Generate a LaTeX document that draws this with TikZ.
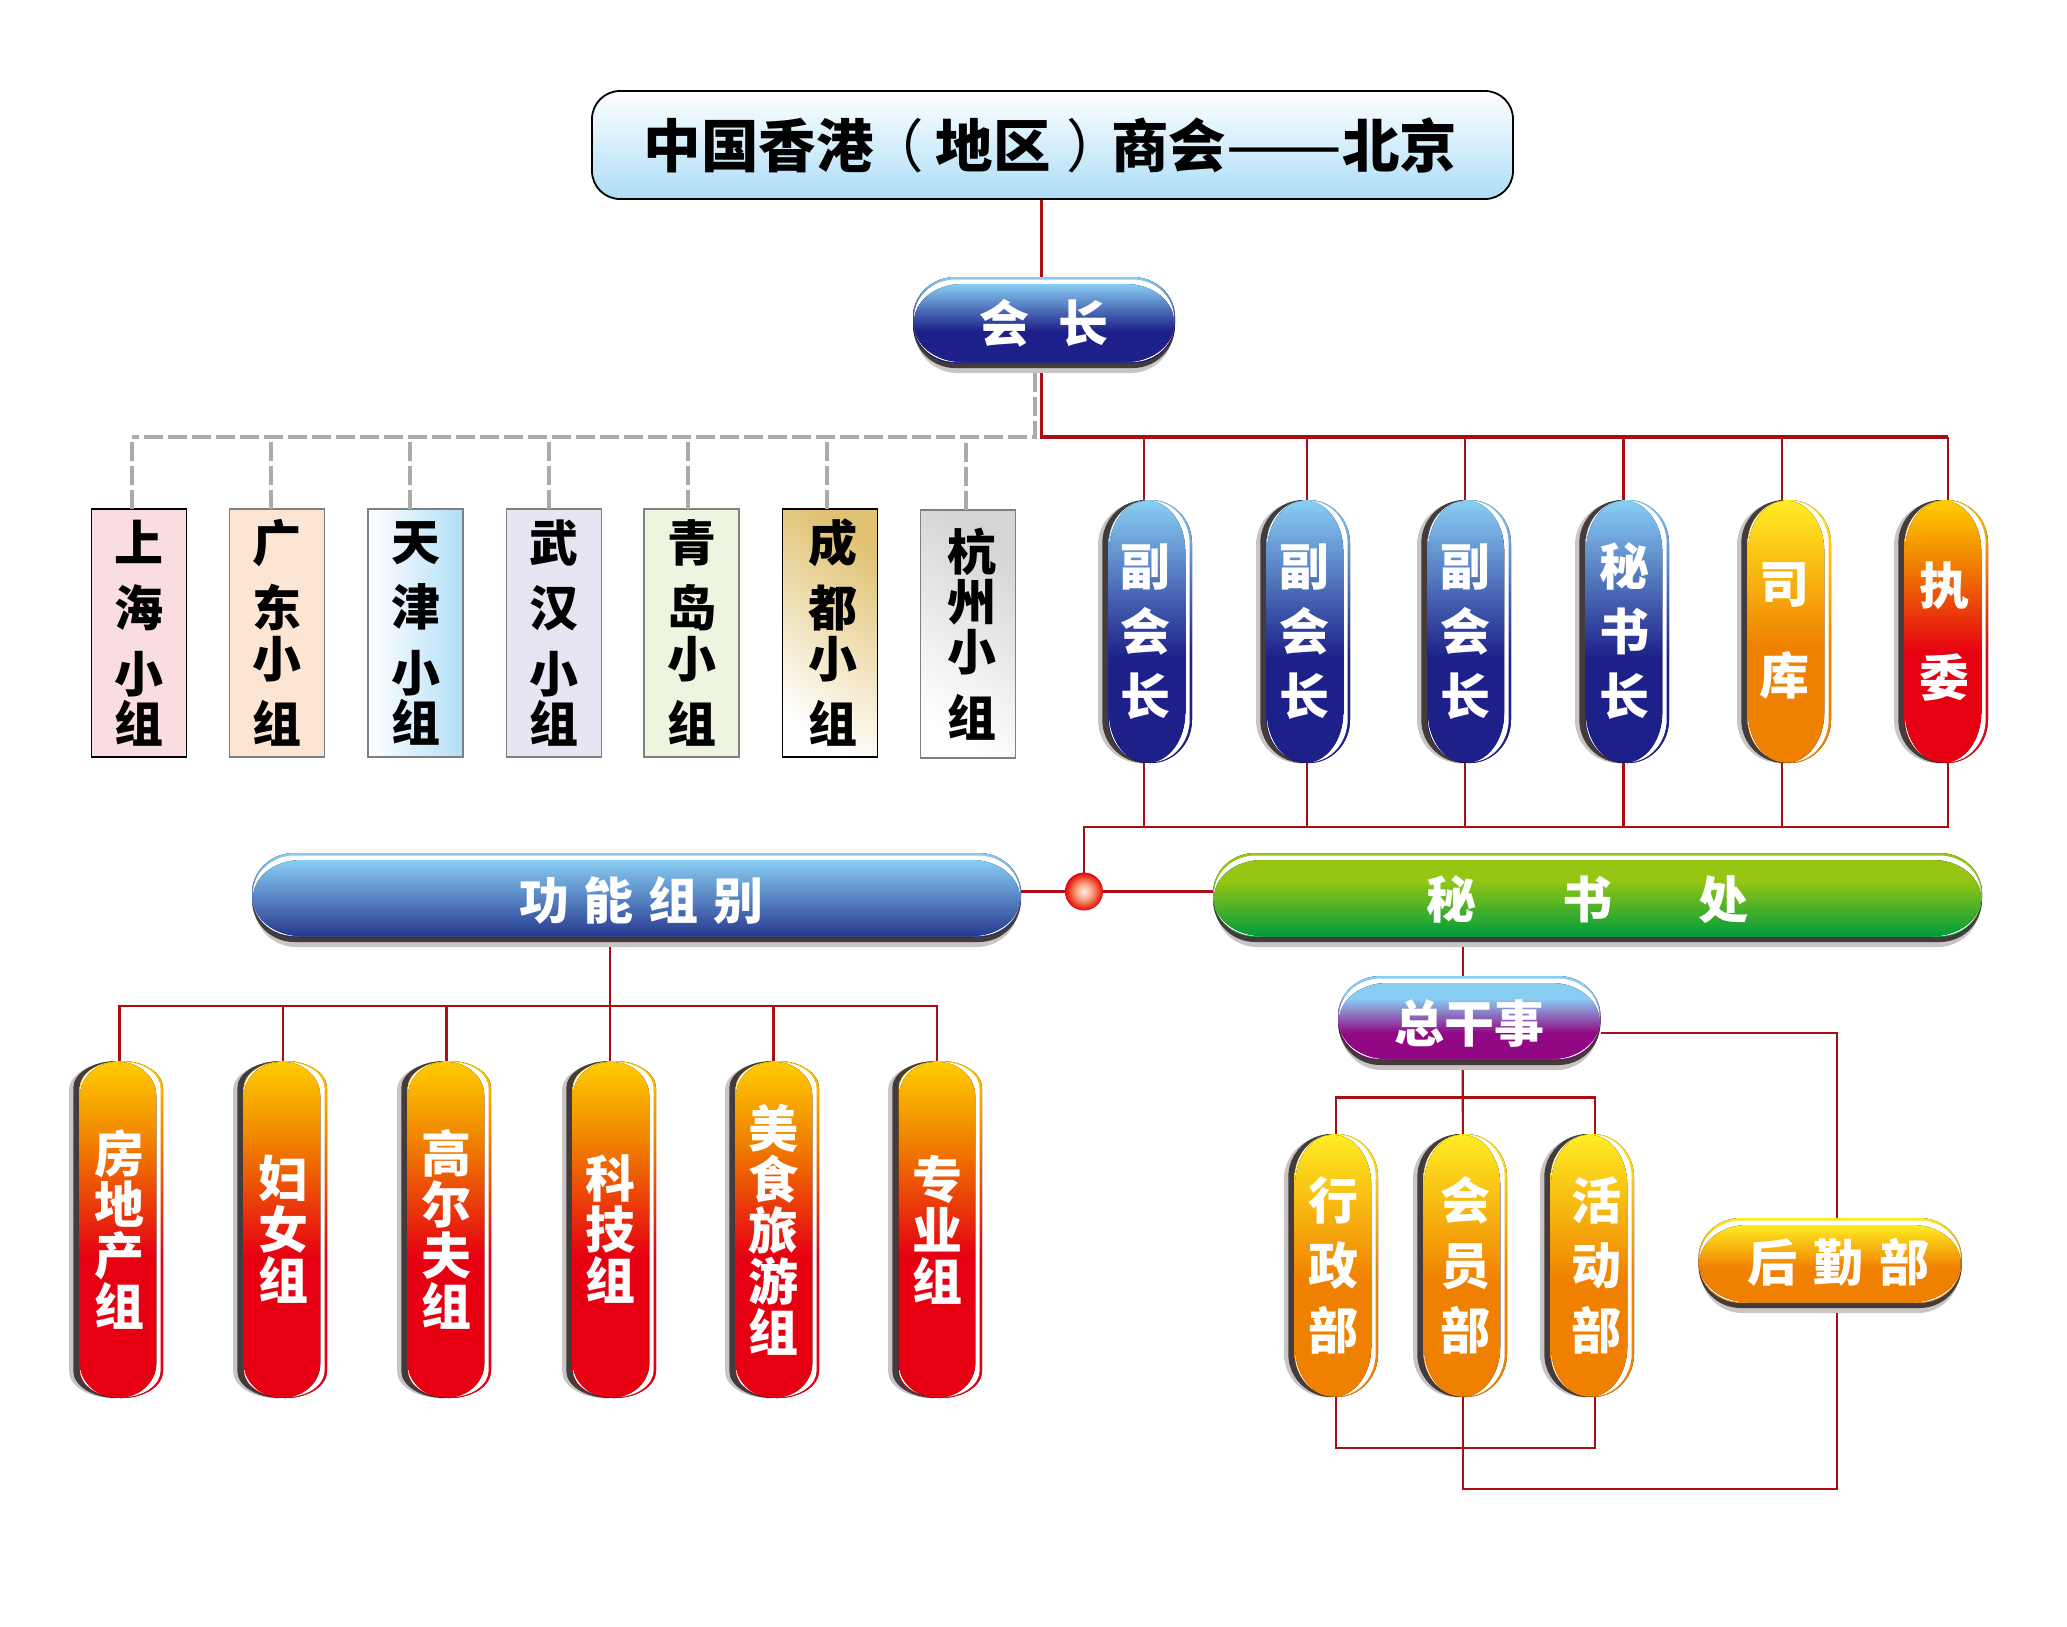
\documentclass[tikz,border=0pt]{standalone}
\usepackage{fontspec}
\newfontfamily\cjk{Noto Sans CJK SC}[BoldFont={Noto Sans CJK SC Black}]

% Colours
\definecolor{redline}{HTML}{A90F12}
\definecolor{dashgray}{HTML}{ABABAB}
\definecolor{pillshadow}{HTML}{C9C5C4}
\definecolor{pilldark}{HTML}{433C3A}
\definecolor{skyblue}{HTML}{88CEF4}
\definecolor{navy}{HTML}{1D2088}
\definecolor{midnavy}{HTML}{27398F}
\definecolor{leaf}{HTML}{96C613}
\definecolor{forest}{HTML}{009C3B}
\definecolor{plum}{HTML}{920783}
\definecolor{sun}{HTML}{FFEC22}
\definecolor{amber}{HTML}{F08000}
\definecolor{gold}{HTML}{FFCC00}
\definecolor{scarlet}{HTML}{E60012}
\definecolor{cellrose}{HTML}{F9DDE0}
\definecolor{cellpeach}{HTML}{FCE5D3}
\definecolor{celllilac}{HTML}{E8E5F2}
\definecolor{cellmint}{HTML}{EDF4E0}
\definecolor{cellgold}{HTML}{E0C272}
\definecolor{cellsilver}{HTML}{D3D4D6}
\definecolor{ballpale}{HTML}{FDEDE0}
\definecolor{ballpeach}{HTML}{F7A78A}
\definecolor{ballred}{HTML}{EE4A2C}

% Shadings
\pgfdeclareverticalshading{bluepill}{100bp}{color(0bp)=(navy); color(45bp)=(navy); color(75bp)=(skyblue); color(100bp)=(skyblue)}
\pgfdeclareverticalshading{barblue}{100bp}{color(0bp)=(midnavy); color(25bp)=(midnavy); color(75bp)=(skyblue); color(100bp)=(skyblue)}
\pgfdeclareverticalshading{greenpill}{100bp}{color(0bp)=(forest); color(25bp)=(forest); color(62bp)=(leaf); color(100bp)=(leaf)}
\pgfdeclareverticalshading{purplepill}{100bp}{color(0bp)=(plum); color(42bp)=(plum); color(65bp)=(skyblue); color(100bp)=(skyblue)}
\pgfdeclareverticalshading{orangepill}{100bp}{color(0bp)=(amber); color(47bp)=(amber); color(75bp)=(sun); color(100bp)=(sun)}
\pgfdeclareverticalshading{redpill}{100bp}{color(0bp)=(scarlet); color(46bp)=(scarlet); color(63bp)=(amber); color(75bp)=(gold); color(100bp)=(gold)}
\pgfdeclareradialshading{ballshade}{\pgfpointorigin}{color(0bp)=(ballpale); color(10bp)=(ballpeach); color(19bp)=(ballred); color(25bp)=(scarlet); color(50bp)=(scarlet)}

\tikzset{
  whitetext/.style={text=white, inner sep=0pt, outer sep=0pt, align=center, font=\cjk\bfseries\fontsize{50}{#1}\selectfont},
  cellbox/.style={draw=#1, line width=1.2pt, inner sep=0pt, outer sep=0pt, minimum width=95pt, minimum height=248pt, align=center},
  cellfont/.style={font=\cjk\bfseries\fontsize{49}{50}\selectfont},
  thinline/.style={draw=redline, line width=2.1pt},
  thickline/.style={draw=redline, line width=3.8pt},
  dashline/.style={draw=dashgray, line width=3.6pt, dash pattern=on 19pt off 5pt},
}

\newcommand{\pillpath}[6]{({#1+#5},{#2}) -- ({#3-#5},{#2}) .. controls ({#3-.45*#5},{#2}) and ({#3},{#2+.45*#6}) .. ({#3},{#2+#6}) -- ({#3},{#4-#6}) .. controls ({#3},{#4-.45*#6}) and ({#3-.45*#5},{#4}) .. ({#3-#5},{#4}) -- ({#1+#5},{#4}) .. controls ({#1+.45*#5},{#4}) and ({#1},{#4-.45*#6}) .. ({#1},{#4-#6}) -- ({#1},{#2+#6}) .. controls ({#1},{#2+.45*#6}) and ({#1+.45*#5},{#2}) .. ({#1+#5},{#2}) -- cycle}

% name, left, top, bottom, end height, shading, centre of node, line height, text
\newcommand{\vpill}[9]{%
  \fill[pillshadow] \pillpath{#2}{#3+2}{#2+80}{#4}{43}{#5};
  \fill[pilldark] \pillpath{#2+4.3}{#3}{#2+85}{#4}{43}{#5};
  \fill[shading=#6] \pillpath{#2+10.5}{#3}{#2+94}{#4}{41}{#5};
  \fill[white] \pillpath{#2+11}{#3+1}{#2+91.7}{#4-1}{38}{#5};
  \fill[shading=#6] \pillpath{#2+11}{#3+1}{#2+87.3}{#4-.5}{37}{(#5+7)};
  \node[whitetext=#8, minimum width=94pt, minimum height={(#4-#3)*1pt}] (#1) at ({#7},{(#3+#4)/2}) {#9};
}

% name, left, right, top, bottom of fill, shading, text
\newcommand{\hpill}[7]{%
  \fill[pillshadow] \pillpath{#2+2}{#4+6}{#3-2}{#5+11}{42}{42};
  \fill[pilldark] \pillpath{#2}{#4+4}{#3}{#5+6}{42}{42};
  \fill[shading=#6] \pillpath{#2}{#4}{#3}{#5+1}{42}{40};
  \fill[white] \pillpath{#2+1}{#4+2.5}{#3-1}{#5}{42}{38};
  \fill[shading=#6] \pillpath{#2+1}{#4+7}{#3-1}{#5}{48}{38};
  \node[whitetext=60, minimum width={(#3-#2)*1pt}, minimum height={(#5+11-#4)*1pt}] (#1) at ({(#2+#3)/2},{(#4+#5+11)/2}) {#7};
}

\begin{document}
\begin{tikzpicture}[x=1pt, y=-1pt]
\useasboundingbox (0,0) rectangle (2067,1626);

% Title
\node[draw=black, line width=1.8pt, rounded corners=28pt, top color=white, bottom color=skyblue!70, minimum width=921pt, minimum height=108pt, inner sep=0pt, font=\cjk\bfseries\fontsize{57.5}{59}\selectfont] (title) at (1052.5,145) {中国香港\hspace{-7pt}{\mdseries （}\hspace{11.5pt}地区\hspace{16pt}{\mdseries ）}\hspace{-13pt}商会\raisebox{-2pt}{\mdseries\fontsize{69}{69}\selectfont ——}北京\hspace*{4pt}};

% President
\hpill{pres}{913}{1175}{277}{362}{bluepill}{\raisebox{8pt}{会\hspace{29pt}长}}

% City groups
\node[cellbox=black, fill=cellrose, cellfont] (shbox) at (139,633) {上\\[15pt]海\\[16pt]小\\组};
\node[cellbox=gray, fill=cellpeach, cellfont] (gdbox) at (277,633) {广\\[15pt]东\\[1pt]小\\[15pt]组};
\node[cellbox=gray, left color=white, right color=skyblue!65, cellfont] (tjbox) at (415.5,633) {天\\[15pt]津\\[16pt]小\\组};
\node[cellbox=gray, fill=celllilac, cellfont] (whbox) at (554,633) {武\\[15pt]汉\\[16pt]小\\组};
\node[cellbox=gray, fill=cellmint, cellfont] (qdbox) at (691.5,633) {青\\[15pt]岛\\[1pt]小\\[15pt]组};
\node[cellbox=black, shading=axis, top color=cellgold, bottom color=white, shading angle=-35, cellfont] (cdbox) at (830,633) {\hspace*{5pt}成\\[15pt]\hspace*{5pt}都\\[1pt]\hspace*{5pt}小\\[15pt]\hspace*{5pt}组};
\node[cellbox=gray, shading=axis, top color=cellsilver, bottom color=white, shading angle=-35, cellfont] (hzbox) at (968,634) {\hspace*{8pt}杭\\\hspace*{8pt}州\\\hspace*{8pt}小\\[16pt]\hspace*{8pt}组};

% Officers
\vpill{vpa}{1098}{500}{763}{43}{bluepill}{1145}{65}{副\\会\\长}
\vpill{vpb}{1256}{500}{763}{43}{bluepill}{1304}{65}{副\\会\\长}
\vpill{vpc}{1417}{500}{763}{43}{bluepill}{1465}{65}{副\\会\\长}
\vpill{sec}{1575}{500}{763}{43}{bluepill}{1624.5}{65}{秘\\书\\长}
\vpill{tre}{1737}{500}{763}{43}{orangepill}{1784}{92}{司\\库}
\vpill{exe}{1894}{500}{763}{43}{redpill}{1944}{92}{执\\委}

% Middle bars
\hpill{func}{252}{1021}{853}{936}{barblue}{\hspace*{10pt}功\hspace{15pt}能\hspace{15pt}组\hspace{15pt}别}
\hpill{office}{1213}{1982}{853}{936}{greenpill}{秘\hspace{86pt}书\hspace{86pt}处\hspace*{21pt}}
\node[circle, shading=ballshade, minimum size=38pt, inner sep=0pt, outer sep=0pt] (ball) at (1084,891.5) {};

% Interest groups
\vpill{gpa}{69}{1061}{1398}{27}{redpill}{119.5}{51}{房\\地\\产\\组}
\vpill{gpb}{233}{1061}{1398}{27}{redpill}{283}{51}{妇\\女\\组}
\vpill{gpc}{397}{1061}{1398}{27}{redpill}{446.5}{51}{高\\尔\\夫\\组}
\vpill{gpd}{562}{1061}{1398}{27}{redpill}{610}{51}{科\\技\\组}
\vpill{gpe}{725}{1061}{1398}{27}{redpill}{773.5}{51}{美\\食\\旅\\游\\组}
\vpill{gpf}{888}{1061}{1398}{27}{redpill}{937}{51}{专\\业\\组}

% Secretariat
\hpill{gen}{1338}{1600.5}{976}{1059}{purplepill}{\raisebox{-12pt}{总干事}}
\vpill{adm}{1284}{1134}{1397}{43}{orangepill}{1333}{65}{行\\政\\部}
\vpill{mem}{1413}{1134}{1397}{43}{orangepill}{1465}{65}{会\\员\\部}
\vpill{act}{1540}{1134}{1397}{43}{orangepill}{1596}{65}{活\\动\\部}
\hpill{log}{1698.5}{1961.7}{1218}{1302}{orangepill}{\hspace*{16pt}\raisebox{12pt}{后\hspace{16pt}勤\hspace{16pt}部}}

% Helper points
\coordinate (pressplit) at ([xshift=-2.5pt]pres.south);
\coordinate (presdash) at ([xshift=-9pt]pres.south);
\coordinate (busa) at (1041.5,437);
\coordinate (busb) at (1084,827);
\coordinate (busc) at (610,1006);
\coordinate (busd) at (1462.8,1097.5);
\coordinate (buse) at (1462.8,1448);
\coordinate (busf) at (1462.8,1489);
\coordinate (dasha) at (1035,437);
\coordinate (shdash) at ([xshift=-7pt]shbox.north);
\coordinate (exetop) at ([xshift=4pt]exe.north);
\coordinate (exebot) at ([xshift=4pt]exe.south);
\coordinate (logtop) at ([xshift=7pt]log.north);
\coordinate (logbot) at ([xshift=7pt]log.south);
\coordinate (gentop) at ([xshift=-6.5pt]gen.north);
\coordinate (genbot) at ([xshift=-6.5pt]gen.south);
\coordinate (genout) at ([yshift=-10pt]gen.east);
\coordinate (funcbot) at ([xshift=-26.5pt]func.south);
\coordinate (admtop) at ([xshift=3pt]adm.north);
\coordinate (admbot) at ([xshift=3pt]adm.south);
\coordinate (memtop) at ([xshift=-2.2pt]mem.north);
\coordinate (membot) at ([xshift=-2.2pt]mem.south);
\coordinate (acttop) at ([xshift=-1pt]act.north);
\coordinate (actbot) at ([xshift=-1pt]act.south);

% Dashed links
\draw[dashline] (presdash) -- (dasha) -- (dasha -| shdash);
\foreach \n/\dx in {shbox/-7,gdbox/-6,tjbox/-5.5,whbox/-5,qdbox/-3.5,cdbox/-3,hzbox/-2} {
  \draw[dashline] ([xshift=\dx pt]\n.north) -- ([xshift=\dx pt]\n.north |- dasha);
}

% Main links
\draw[thickline] (title.south -| pressplit) -- (pres.north -| pressplit);
\draw[thickline] (pressplit) -- (busa) -- (busa -| exetop);
\foreach \n/\dx in {vpa/-.7,vpb/2.7,vpc/0,sec/-1,tre/-2} {
  \draw[thinline] ([xshift=\dx pt]\n.north |- busa) -- ([xshift=\dx pt]\n.north);
  \draw[thinline] ([xshift=\dx pt]\n.south) -- ([xshift=\dx pt]\n.south |- busb);
}
\draw[thinline] (exetop |- busa) -- (exetop);
\draw[thinline] (ball.north) -- (busb) -- (busb -| exebot) -- (exebot);
\draw[thinline] (func.east |- ball) -- (ball.west);
\draw[thinline] (ball.east) -- (office.west |- ball);

% Interest group links
\draw[thinline] (funcbot) -- (busc);
\draw[thinline] (gpa.north) -- (gpa.north |- busc) -- (gpf.north |- busc) -- (gpf.north);
\foreach \n in {gpb,gpc,gpd,gpe} {
  \draw[thinline] (\n.north |- busc) -- (\n.north);
}

% Secretariat links
\draw[thinline] (office.south -| gentop) -- (gentop);
\draw[thinline] (genbot) -- (memtop);
\draw[thinline] (admtop) -- (admtop |- busd) -- (acttop |- busd) -- (acttop);
\draw[thinline] (admbot) -- (admbot |- buse) -- (actbot |- buse) -- (actbot);
\draw[thinline] (genout) -| (logtop);
\draw[thinline] (logbot) -- (logbot |- busf) -- (busf) -- (membot);
\end{tikzpicture}
\end{document}
